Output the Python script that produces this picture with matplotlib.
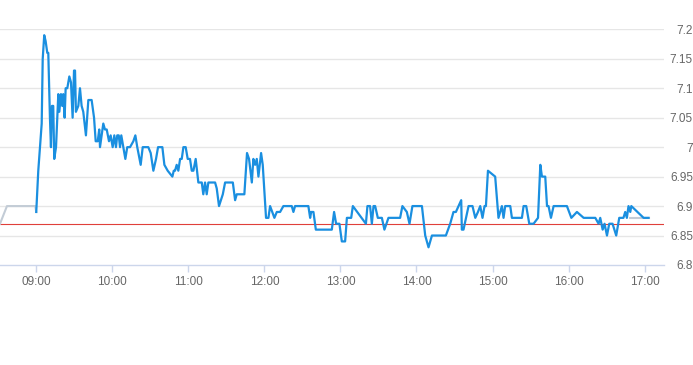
import matplotlib
matplotlib.use("Agg")
import matplotlib.pyplot as plt
import numpy as np

# minutos desde las 09:00 y precio
t_min = [0, 1.6, 4.3, 5.1, 6.3, 7.4, 8.7, 9.5, 10.8, 11.6, 12.4, 13.4, 14.2, 15.6, 17.4,
         18.2, 19.5, 20.5, 21.3, 22.4, 23.2, 24.5, 26.1, 27.4, 28.7, 29.8, 30.6, 31.3, 33.2,
         34.5, 35.8, 37.1, 39.2, 41.1, 43.7, 45.6, 46.9, 48.5, 49.7, 50.3, 51.6, 52.9, 54.2,
         55.6, 57.4, 58.7, 60.3, 61.6, 62.9, 63.9, 65.1, 66.1, 67.1, 68.7, 70.3, 71.8, 74.0,
         76.6, 78.2, 79.7, 82.4, 84.0, 88.4, 90.3, 92.4, 94.5, 96.1, 99.5, 101.1, 103.7,
         107.4, 108.5, 109.5, 110.8, 112.1, 113.5, 114.8, 116.1, 117.9, 119.5, 121.3, 122.7,
         124.0, 125.8, 127.9, 130.6, 131.8, 133.2, 134.5, 135.8, 141.1, 142.4, 144.2, 147.2,
         149.0, 155.1, 156.9, 158.2, 164.2, 166.3, 167.9, 170.1, 171.3, 172.7, 174.0, 175.3,
         177.4, 178.7, 181.3, 183.2, 184.5, 187.9, 189.8, 192.4, 195.0, 201.6, 202.9, 204.2,
         214.7, 216.1, 216.9, 218.7, 220.6, 233.2, 235.0, 236.6, 239.2, 241.1, 243.7, 245.1,
         248.5, 249.8, 260.1, 261.3, 263.4, 264.8, 266.1, 267.4, 269.5, 272.7, 274.7, 277.9,
         287.1, 288.9, 292.4, 294.5, 296.8, 304.3, 306.9, 309.5, 312.2, 323.2, 326.6, 329.2,
         331.1, 335.3, 335.8, 337.1, 341.1, 344.2, 346.4, 348.5, 350.3, 352.1, 353.7, 354.8,
         356.4, 362.1, 364.7, 367.4, 368.7, 370.0, 374.0, 375.3, 383.2, 384.5, 386.6, 389.0,
         392.4, 395.9, 397.7, 399.0, 401.6, 403.0, 404.2, 406.1, 408.2, 418.7, 422.2, 426.6,
         431.9, 441.1, 443.7, 445.0, 446.9, 448.4, 450.3, 452.1, 454.7, 457.6, 460.0, 463.3,
         464.7, 466.0, 467.3, 468.7, 469.5, 479.2, 483.1]
precio = [6.89, 6.96, 7.04, 7.15, 7.19, 7.18, 7.16, 7.16, 7.05, 7.00, 7.07, 7.07, 6.98, 7.00, 7.09,
          7.06, 7.09, 7.07, 7.09, 7.05, 7.10, 7.10, 7.12, 7.11, 7.05, 7.13, 7.13, 7.06, 7.07,
          7.10, 7.07, 7.06, 7.02, 7.08, 7.08, 7.05, 7.01, 7.01, 7.03, 7.00, 7.02, 7.04, 7.03,
          7.03, 7.01, 7.02, 7.00, 7.02, 7.00, 7.02, 7.02, 7.00, 7.02, 7.00, 6.98, 7.00, 7.00,
          7.01, 7.02, 7.00, 6.97, 7.00, 7.00, 6.99, 6.96, 6.98, 7.00, 7.00, 6.97, 6.96,
          6.95, 6.96, 6.96, 6.97, 6.96, 6.98, 6.98, 7.00, 7.00, 6.98, 6.98, 6.96,
          6.96, 6.98, 6.94, 6.94, 6.92, 6.94, 6.92, 6.94, 6.94, 6.93, 6.90, 6.92,
          6.94, 6.94, 6.91, 6.92, 6.92, 6.99, 6.98, 6.94, 6.98, 6.97, 6.98, 6.95,
          6.99, 6.97, 6.88, 6.88, 6.90, 6.88, 6.89, 6.89, 6.90, 6.90, 6.89, 6.90,
          6.90, 6.88, 6.89, 6.89, 6.86, 6.86, 6.89, 6.87, 6.87, 6.84, 6.84, 6.88,
          6.88, 6.90, 6.87, 6.90, 6.90, 6.87, 6.90, 6.90, 6.88, 6.88, 6.86, 6.88,
          6.88, 6.90, 6.89, 6.87, 6.90, 6.90, 6.85, 6.83, 6.85, 6.85, 6.87, 6.89,
          6.89, 6.91, 6.86, 6.86, 6.90, 6.90, 6.88, 6.89, 6.90, 6.88, 6.90, 6.90,
          6.96, 6.95, 6.88, 6.90, 6.88, 6.90, 6.90, 6.88, 6.88, 6.90, 6.90, 6.87,
          6.87, 6.88, 6.97, 6.95, 6.95, 6.90, 6.90, 6.88, 6.90, 6.90, 6.88, 6.89,
          6.88, 6.88, 6.87, 6.88, 6.86, 6.87, 6.85, 6.87, 6.87, 6.85, 6.88, 6.88,
          6.89, 6.88, 6.90, 6.89, 6.90, 6.88, 6.88]

# tramos grises (pre apertura y cierre)
pre_t = [-28.6, -23.1, -0.8, 0]
pre_precio = [6.87, 6.90, 6.90, 6.89]
post_t = [468.7, 483.1]
post_precio = [6.88, 6.88]

cierre_anterior = 6.87

y_ticks = [6.8, 6.85, 6.9, 6.95, 7.0, 7.05, 7.1, 7.15, 7.2]
y_labels = ["6.8", "6.85", "6.9", "6.95", "7", "7.05", "7.1", "7.15", "7.2"]
x_labels = ["09:00", "10:00", "11:00", "12:00", "13:00", "14:00", "15:00", "16:00", "17:00"]

inicio = 9 * 60  # 09:00 en minutos

fig = plt.figure(figsize=(6.93, 3.65), dpi=100)
ax = fig.add_axes([0, 0.274, 664 / 693, 0.9197 - 0.274])

ax.plot(np.array(pre_t) + inicio, pre_precio, color="#c3ccd6", lw=1.5, zorder=3)
ax.plot(np.array(post_t) + inicio, post_precio, color="#c3ccd6", lw=1.5, zorder=3)
ax.plot(np.array(t_min) + inicio, precio, color="#1a8fe0", lw=1.6, zorder=4,
        solid_joinstyle="round")
ax.axhline(cierre_anterior, color="#e0403a", lw=0.8, zorder=2)

ax.set_xlim(inicio - 28.6, inicio + 495.3)
ax.set_ylim(6.8, 7.2)

# cuadricula horizontal
for v in y_ticks[1:]:
    ax.axhline(v, color="#e6e6e6", lw=1, zorder=1)

for s in ["top", "left", "right"]:
    ax.spines[s].set_visible(False)
ax.spines["bottom"].set_color("#ccd6eb")
ax.spines["bottom"].set_linewidth(1)

ax.set_xticks([inicio + 60 * i for i in range(len(x_labels))])
ax.set_xticklabels(x_labels)
ax.tick_params(axis="x", length=5, width=1, color="#ccd6eb", pad=3,
               labelsize=8.5, labelcolor="#666666")

ax.yaxis.tick_right()
ax.set_yticks(y_ticks)
ax.set_yticklabels(y_labels)
ax.tick_params(axis="y", length=0, pad=20.8, labelsize=8.5, labelcolor="#666666")
for lab in ax.get_yticklabels():
    lab.set_horizontalalignment("right")
for lab in ax.get_xticklabels() + ax.get_yticklabels():
    lab.set_fontfamily("Liberation Sans")

ax.set_facecolor("white")
fig.savefig("out.png", dpi=100)
